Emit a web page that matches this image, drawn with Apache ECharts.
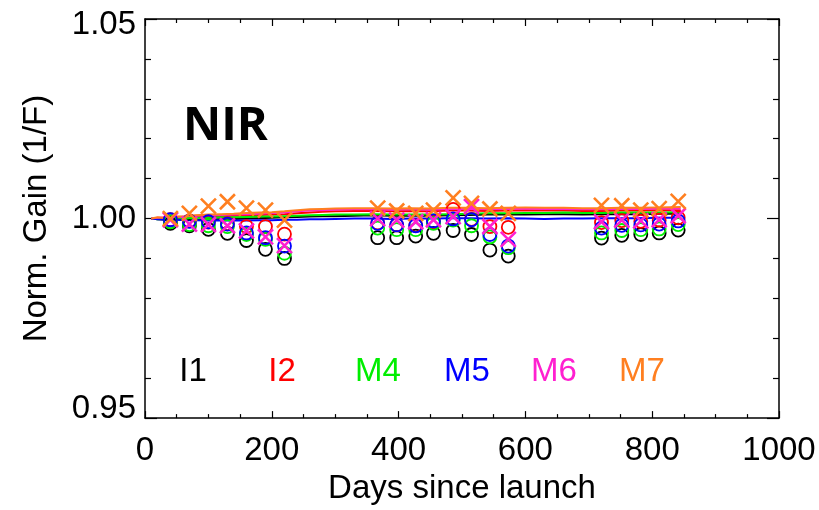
<!DOCTYPE html>
<html>
<head>
<meta charset="utf-8">
<script src="https://cdn.jsdelivr.net/npm/echarts@6/dist/echarts.min.js"></script>
<style>
  html, body { margin: 0; padding: 0; background: #fff; }
  #chart { width: 819px; height: 510px; }
</style>
</head>
<body>
<div id="chart"></div>
<script>
  // band names and colours
  var bands = ['I1', 'I2', 'M4', 'M5', 'M6', 'M7'];
  var colors = ['#000000', '#ff0000', '#00ee00', '#0000ff', '#ff20d0', '#ff7f20'];

  // daily trend (smoothed), days since launch
  var lineDays = [10, 20, 35, 50, 65, 80, 100, 120, 140, 160, 180, 200, 220, 240, 260, 280, 300, 330, 360, 390, 420, 450, 480, 510, 540, 570, 600, 630, 660, 690, 720, 750, 780, 810, 845];
  var lineI1 = [1.0000, 0.9998, 0.9997, 0.9998, 0.9997, 0.9997, 0.9998, 0.9998, 0.9999, 1.0000, 1.0001, 1.0002, 1.0003, 1.0004, 1.0005, 1.0006, 1.0006, 1.0007, 1.0008, 1.0007, 1.0007, 1.0007, 1.0008, 1.0009, 1.0010, 1.0010, 1.0010, 1.0011, 1.0011, 1.0010, 1.0011, 1.0011, 1.0011, 1.0012, 1.0012];
  var lineI2 = [1.0000, 0.9999, 1.0002, 1.0002, 1.0003, 1.0004, 1.0005, 1.0006, 1.0007, 1.0008, 1.0009, 1.0010, 1.0011, 1.0013, 1.0015, 1.0017, 1.0018, 1.0019, 1.0019, 1.0018, 1.0019, 1.0018, 1.0020, 1.0020, 1.0019, 1.0020, 1.0021, 1.0020, 1.0020, 1.0019, 1.0019, 1.0020, 1.0020, 1.0021, 1.0021];
  var lineM4 = [1.0000, 0.9998, 1.0000, 1.0001, 1.0001, 1.0002, 1.0002, 1.0003, 1.0003, 1.0004, 1.0005, 1.0005, 1.0006, 1.0007, 1.0008, 1.0009, 1.0010, 1.0010, 1.0011, 1.0010, 1.0010, 1.0010, 1.0011, 1.0012, 1.0013, 1.0013, 1.0014, 1.0014, 1.0015, 1.0014, 1.0014, 1.0015, 1.0015, 1.0015, 1.0016];
  var lineM5 = [1.0000, 0.9998, 0.9997, 0.9997, 0.9996, 0.9996, 0.9995, 0.9996, 0.9995, 0.9995, 0.9996, 0.9996, 0.9997, 0.9997, 0.9998, 0.9998, 0.9999, 1.0000, 1.0000, 0.9999, 1.0000, 1.0000, 1.0001, 1.0001, 1.0000, 1.0001, 1.0000, 0.9999, 1.0000, 1.0000, 1.0001, 1.0001, 1.0001, 1.0002, 1.0002];
  var lineM6 = [1.0000, 1.0002, 1.0003, 1.0004, 1.0005, 1.0007, 1.0008, 1.0009, 1.0010, 1.0011, 1.0012, 1.0014, 1.0015, 1.0018, 1.0020, 1.0021, 1.0022, 1.0023, 1.0023, 1.0022, 1.0023, 1.0022, 1.0024, 1.0024, 1.0023, 1.0024, 1.0025, 1.0024, 1.0024, 1.0023, 1.0023, 1.0024, 1.0024, 1.0025, 1.0025];
  var lineM7 = [1.0000, 1.0003, 1.0001, 1.0005, 1.0006, 1.0008, 1.0010, 1.0011, 1.0012, 1.0014, 1.0015, 1.0016, 1.0018, 1.0021, 1.0023, 1.0024, 1.0025, 1.0026, 1.0026, 1.0025, 1.0026, 1.0025, 1.0027, 1.0027, 1.0026, 1.0027, 1.0028, 1.0027, 1.0027, 1.0026, 1.0026, 1.0027, 1.0027, 1.0028, 1.0029];

  // lunar calibration points
  var markDays = [40, 70, 100, 130, 160, 190, 220, 367, 397, 427, 455, 486, 515, 544, 573, 720, 752, 782, 811, 841];
  var markI1 = [0.9988, 0.9982, 0.9973, 0.9963, 0.9945, 0.9923, 0.9900, 0.9952, 0.9952, 0.9956, 0.9963, 0.9970, 0.9960, 0.9921, 0.9906, 0.9951, 0.9958, 0.9960, 0.9964, 0.9971];
  var markI2 = [0.9997, 0.9994, 0.9991, 0.9987, 0.9980, 0.9980, 0.9961, 0.9989, 0.9984, 0.9983, 0.9992, 1.0023, 0.9998, 0.9980, 0.9978, 0.9990, 0.9995, 0.9993, 0.9996, 1.0002];
  var markM4 = [0.9992, 0.9985, 0.9982, 0.9980, 0.9960, 0.9948, 0.9913, 0.9976, 0.9972, 0.9972, 0.9988, 0.9996, 0.9982, 0.9954, 0.9927, 0.9964, 0.9970, 0.9972, 0.9974, 0.9985];
  var markM5 = [0.9997, 0.9993, 0.9992, 0.9986, 0.9964, 0.9952, 0.9931, 0.9988, 0.9984, 0.9982, 0.9994, 0.9999, 0.9997, 0.9960, 0.9931, 0.9976, 0.9983, 0.9984, 0.9986, 0.9994];
  var markM6 = [0.9997, 0.9986, 0.9985, 0.9982, 0.9969, 0.9954, 0.9932, 1.0000, 0.9996, 0.9992, 0.9997, 1.0005, 1.0030, 0.9980, 0.9948, 0.9992, 0.9996, 0.9994, 0.9997, 1.0007];
  var markM7 = [1.0000, 1.0013, 1.0031, 1.0042, 1.0026, 1.0021, 0.9996, 1.0026, 1.0019, 1.0013, 1.0021, 1.0052, 1.0038, 1.0024, 1.0013, 1.0033, 1.0032, 1.0021, 1.0025, 1.0043];

  var xTicks = [0, 200, 400, 600, 800, 1000];
  var yTicks = [0.95, 1.00, 1.05];

  var lineSets = [lineI1, lineI2, lineM4, lineM5, lineM6, lineM7];
  var markSets = [markI1, markI2, markM4, markM5, markM6, markM7];
  var crossPath = 'path://M0,0L10,10M10,0L0,10';

  function pairs(xs, ys) {
    return xs.map(function (x, i) { return [x, ys[i]]; });
  }

  var series = [];
  // trend lines first
  bands.forEach(function (b, i) {
    series.push({
      name: b + ' trend',
      type: 'line',
      data: pairs(lineDays, lineSets[i]),
      showSymbol: false,
      lineStyle: { color: colors[i], width: 2 },
      z: 2
    });
  });
  // then the calibration markers
  bands.forEach(function (b, i) {
    var isCross = (b === 'M6' || b === 'M7');
    series.push({
      name: b,
      type: 'scatter',
      data: pairs(markDays, markSets[i]),
      symbol: isCross ? crossPath : 'circle',
      symbolSize: isCross ? 15 : 13,
      itemStyle: {
        color: 'rgba(0,0,0,0)',
        borderColor: colors[i],
        borderWidth: isCross ? 2.6 : 1.8,
        opacity: 1
      },
      z: 3 + i
    });
  });

  var fontFam = '"Liberation Sans", Arial, sans-serif';
  var fs = 33;

  function xAxisCfg(pos, showLabel) {
    return {
      type: 'value',
      position: pos,
      min: xTicks[0],
      max: xTicks[xTicks.length - 1],
      interval: xTicks[1] - xTicks[0],
      name: showLabel ? 'Days since launch' : '',
      nameLocation: 'middle',
      nameGap: 50,
      nameTextStyle: { fontFamily: fontFam, fontSize: fs, color: '#000' },
      axisLine: { show: true, onZero: false, lineStyle: { color: '#000', width: 1.5 } },
      axisTick: { show: true, inside: true, length: 7, lineStyle: { color: '#000', width: 1.2 } },
      minorTick: { show: true, splitNumber: 4, length: 4, lineStyle: { color: '#000', width: 1.2 } },
      axisLabel: {
        show: showLabel, margin: 16, fontFamily: fontFam, fontSize: fs, color: '#000',
        formatter: function (v) { return String(v); }
      },
      splitLine: { show: false },
      minorSplitLine: { show: false }
    };
  }

  // end labels sit a little inside the box, as in the original plot
  var labTxt = { fontFamily: fontFam, fontSize: fs, color: '#000' };
  function yAxisCfg(pos, showLabel) {
    return {
      type: 'value',
      position: pos,
      min: yTicks[0],
      max: yTicks[yTicks.length - 1],
      interval: 0.05,
      name: showLabel ? 'Norm. Gain (1/F)' : '',
      nameLocation: 'middle',
      nameGap: 92,
      nameRotate: 90,
      nameTextStyle: { fontFamily: fontFam, fontSize: fs, color: '#000' },
      axisLine: { show: true, onZero: false, lineStyle: { color: '#000', width: 1.5 } },
      axisTick: { show: true, inside: true, length: 12, lineStyle: { color: '#000', width: 1.2 } },
      minorTick: { show: true, splitNumber: 5, length: 6, lineStyle: { color: '#000', width: 1.2 } },
      axisLabel: {
        show: showLabel, margin: 9, fontFamily: fontFam, fontSize: fs, color: '#000',
        formatter: function (v) {
          var s = v.toFixed(2);
          if (Math.abs(v - yTicks[0]) < 1e-6) return '{lo|' + s + '}';
          if (Math.abs(v - yTicks[yTicks.length - 1]) < 1e-6) return '{hi|' + s + '}';
          return s;
        },
        rich: {
          lo: Object.assign({ padding: [0, 0, 18, 0] }, labTxt),
          hi: Object.assign({ padding: [12, 0, 0, 0] }, labTxt)
        }
      },
      splitLine: { show: false },
      minorSplitLine: { show: false }
    };
  }

  var legendX = [193, 282, 378, 467, 554, 642];
  var graphics = [{
    type: 'text',
    left: 183,
    top: 103,
    style: { text: 'NIR', fontFamily: '"Open Sans", sans-serif', fontWeight: 'bold', fontSize: 47, fill: '#000' }
  }];
  bands.forEach(function (b, i) {
    graphics.push({
      type: 'text',
      x: legendX[i],
      y: 372,
      style: {
        text: b, fontFamily: fontFam, fontSize: fs, fill: colors[i],
        align: 'center', verticalAlign: 'middle'
      }
    });
  });

  var chart = echarts.init(document.getElementById('chart'), null, { renderer: 'canvas' });
  chart.setOption({
    animation: false,
    backgroundColor: '#fff',
    grid: { left: 145, right: 40, top: 19, bottom: 85, containLabel: false },
    xAxis: [xAxisCfg('bottom', true), xAxisCfg('top', false)],
    yAxis: [yAxisCfg('left', true), yAxisCfg('right', false)],
    graphic: graphics,
    series: series
  });
</script>
</body>
</html>
